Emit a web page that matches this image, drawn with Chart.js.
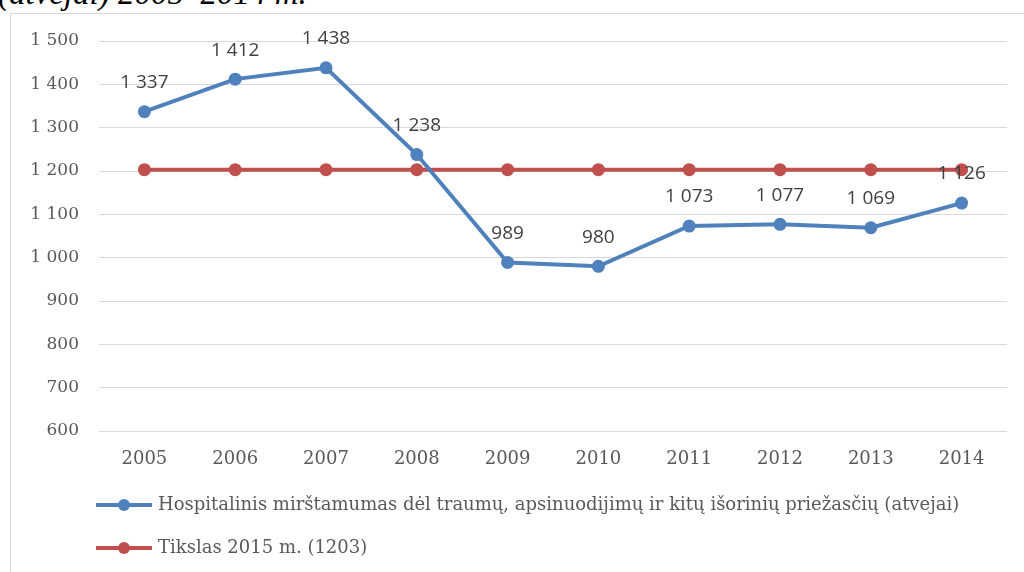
<!DOCTYPE html>
<html>
<head>
<meta charset="utf-8">
<script src="https://cdn.jsdelivr.net/npm/chart.js@4/dist/chart.umd.min.js"></script>
<style>
  html, body { margin: 0; padding: 0; background: #fff; overflow: hidden; width: 1024px; height: 572px; }
  #title { position: absolute; left: -2px; top: -22px; font: italic 33px "Liberation Serif", "DejaVu Serif", serif; color: #000; line-height: 30px; white-space: nowrap; }
  #box { position: absolute; left: 10px; top: 13px; width: 1040px; height: 640px; border: 1px solid #d9d9d9; }
  #wrap { position: absolute; left: 0; top: 0; width: 1013px; height: 558px; }
</style>
</head>
<body>
<div id="title">(atvejai) 2005–2014 m.</div>
<div id="box"><div id="wrap"><canvas id="c"></canvas></div></div>
<script>
const years = ['2005','2006','2007','2008','2009','2010','2011','2012','2013','2014'];
const hospital = [1337, 1412, 1438, 1238, 989, 980, 1073, 1077, 1069, 1126];
const target = [1203, 1203, 1203, 1203, 1203, 1203, 1203, 1203, 1203, 1203];
const seriesNames = ['Hospitalinis mirštamumas dėl traumų, apsinuodijimų ir kitų išorinių priežasčių (atvejai)', 'Tikslas 2015 m. (1203)'];
const yMin = 600, yMax = 1500, yStep = 100;

const BLUE = '#4F81BD', RED = '#C0504D';
const fmt = v => String(v).replace(/\B(?=(\d{3})+(?!\d))/g, ' ');

function makeIcon(color) {
  const c = document.createElement('canvas');
  c.width = 56; c.height = 14;
  const x = c.getContext('2d');
  x.strokeStyle = color; x.lineWidth = 4;
  x.beginPath(); x.moveTo(0, 7); x.lineTo(56, 7); x.stroke();
  x.fillStyle = color; x.beginPath(); x.arc(28, 7, 6, 0, Math.PI * 2); x.fill();
  return c;
}
const icons = [makeIcon(BLUE), makeIcon(RED)];

const labelPlugin = {
  id: 'dataLabels',
  afterDatasetsDraw(chart) {
    const ctx = chart.ctx;
    const meta = chart.getDatasetMeta(0);
    ctx.save();
    ctx.font = '19px "Open Sans", "Noto Sans", sans-serif';
    ctx.fillStyle = '#404040';
    ctx.textAlign = 'center';
    ctx.textBaseline = 'middle';
    meta.data.forEach((pt, i) => {
      ctx.fillText(fmt(hospital[i]), pt.x, pt.y - 29);
    });
    ctx.restore();
  }
};
const legendShift = {
  id: 'legendShift',
  afterLayout(chart) {
    if (chart.legend) { chart.legend.left += 63; chart.legend.right += 63; }
  }
};

new Chart(document.getElementById('c'), {
  type: 'line',
  data: {
    labels: years,
    datasets: [
      { label: seriesNames[0], data: hospital, borderColor: BLUE, backgroundColor: BLUE, borderWidth: 4, pointRadius: 6.5, pointBackgroundColor: BLUE, pointBorderWidth: 0, tension: 0 },
      { label: seriesNames[1], data: target, borderColor: RED, backgroundColor: RED, borderWidth: 4, pointRadius: 6.5, pointBackgroundColor: RED, pointBorderWidth: 0, tension: 0 }
    ]
  },
  options: {
    responsive: true,
    maintainAspectRatio: false,
    animation: false,
    layout: { autoPadding: false, padding: { top: 27, right: 17, bottom: 5, left: 0 } },
    scales: {
      x: {
        offset: true,
        grid: { display: false },
        border: { display: false },
        ticks: { color: '#595959', font: { family: '"DejaVu Serif", serif', size: 18 }, padding: 10 },
        afterFit(s) { s.height = 40; }
      },
      y: {
        min: yMin, max: yMax,
        grid: { color: '#d9d9d9', lineWidth: 1, drawTicks: false },
        border: { display: false },
        ticks: { stepSize: yStep, color: '#595959', font: { family: '"DejaVu Serif", serif', size: 17 }, padding: 20, callback: v => fmt(v) },
        afterFit(s) { s.width = 88; s.paddingTop = 0; s.paddingBottom = 0; }
      }
    },
    plugins: {
      tooltip: { enabled: false },
      legend: {
        position: 'bottom',
        align: 'start',
        labels: {
          usePointStyle: true,
          pointStyleWidth: 50,
          padding: 25,
          color: '#595959',
          font: { family: '"DejaVu Serif", serif', size: 18 },
          generateLabels(chart) {
            const items = Chart.defaults.plugins.legend.labels.generateLabels(chart);
            items.forEach((it, i) => { it.pointStyle = icons[i]; });
            return items;
          }
        }
      }
    }
  },
  plugins: [labelPlugin, legendShift]
});
</script>
</body>
</html>
